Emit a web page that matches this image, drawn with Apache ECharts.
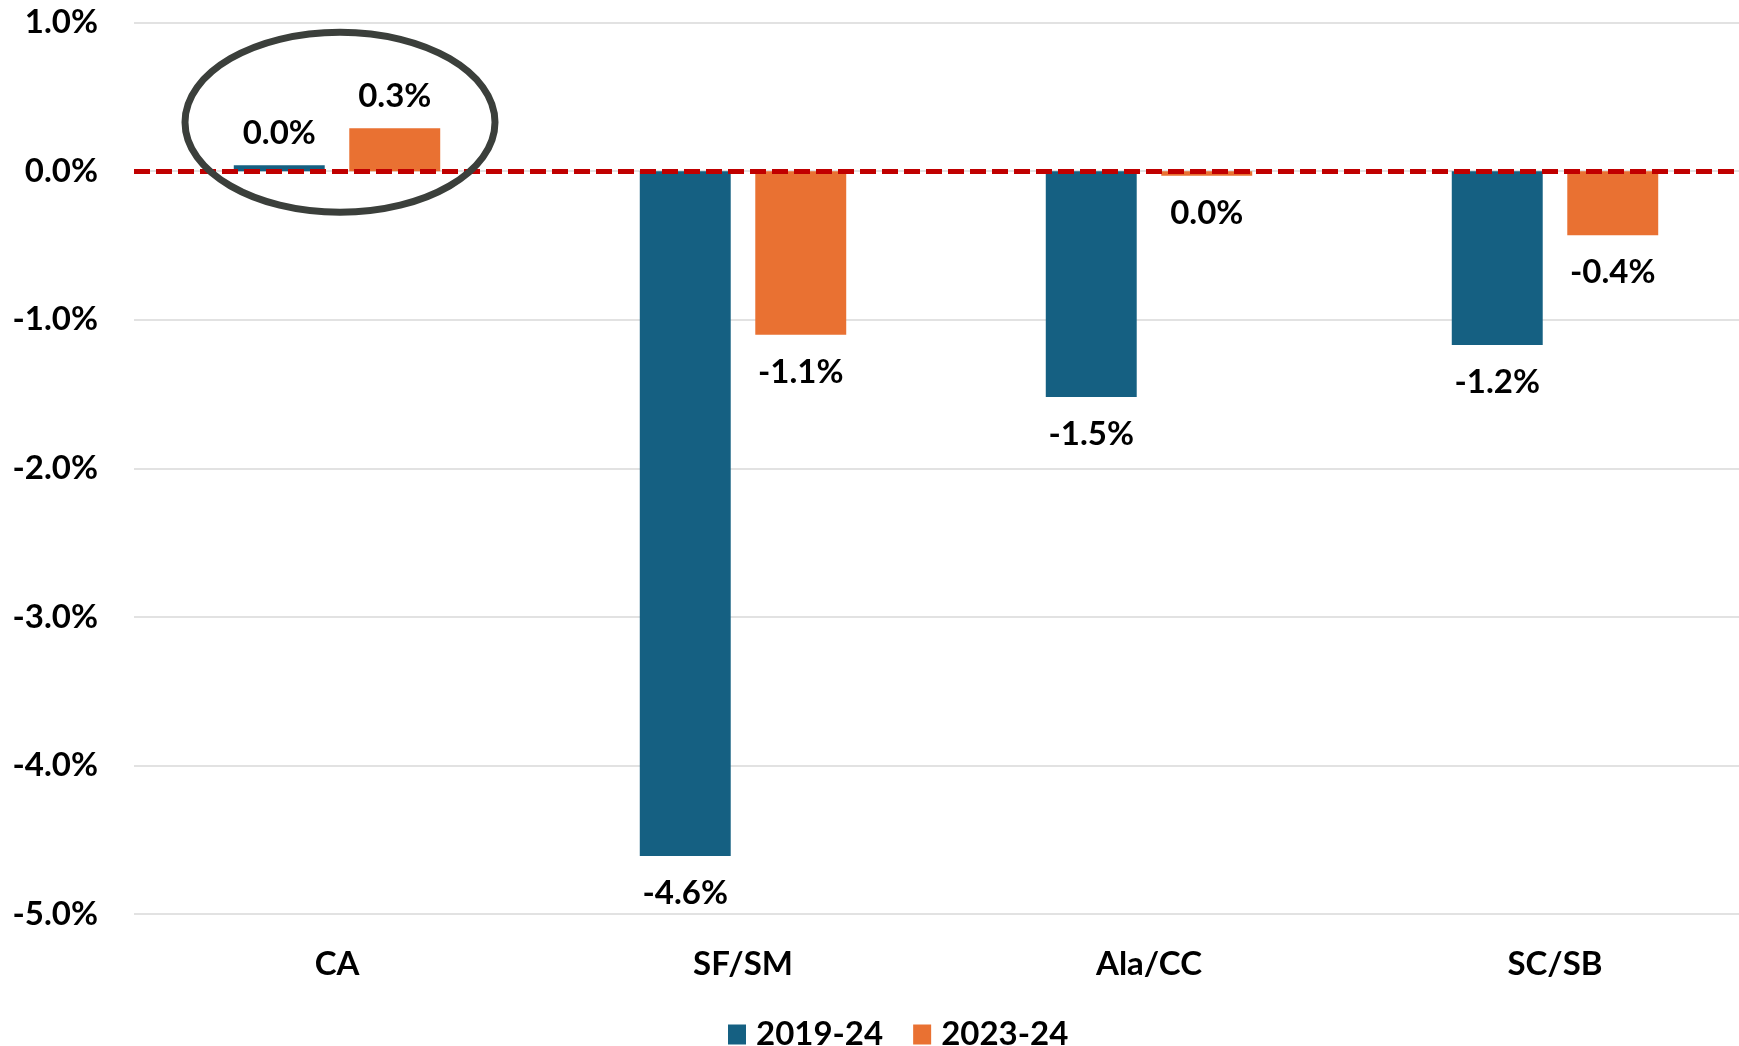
<!DOCTYPE html>
<html lang="en">
<head>
    <meta charset="UTF-8">
    <script src="https://cdn.jsdelivr.net/npm/echarts@6/dist/echarts.min.js"></script>
    <style>
        html, body { margin: 0; padding: 0; background: #fff; }
        #chart { width: 1739px; height: 1046px; }
    </style>
</head>
<body>
<div id="chart"></div>
<script>
    // data
    var categories = ['CA', 'SF/SM', 'Ala/CC', 'SC/SB'];
    var seriesNames = ['2019-24', '2023-24'];
    var change2019 = [0.04, -4.61, -1.52, -1.17];
    var change2023 = [0.29, -1.10, -0.03, -0.43];
    var yTicks = { min: -5, max: 1, step: 1 };

    var FONT = 'Lato';
    var FS = 33;
    var blue = '#156082';
    var orange = '#E97132';

    function pct(v) {
        var s = Math.abs(v) < 0.05 ? '0.0' : v.toFixed(1);
        return s + '%';
    }

    // label above positive bars, below negative ones
    function withLabels(arr) {
        return arr.map(function (v) {
            return {
                value: v,
                label: v >= 0 ? { position: 'top', distance: 15 } : { position: 'bottom', distance: 21 }
            };
        });
    }

    var labelStyle = {
        show: true,
        color: '#000',
        fontFamily: FONT,
        fontWeight: 'bold',
        fontSize: FS,
        formatter: function (p) { return pct(p.value); }
    };

    var chart = echarts.init(document.getElementById('chart'));
    var option = {
        animation: false,
        textStyle: { fontFamily: FONT },
        // plot runs a little past the right edge of the picture
        grid: { left: 134, width: 1624, top: 22.7, bottom: 132, containLabel: false, outerBoundsMode: 'none' },
        legend: {
            left: 723,
            top: 1013,
            icon: 'rect',
            itemWidth: 18,
            itemHeight: 20,
            itemGap: 30,
            itemStyle: { borderWidth: 0 },
            textStyle: { fontFamily: FONT, fontWeight: 'bold', fontSize: FS, color: '#000', padding: [0, 0, 0, 5] },
            data: seriesNames
        },
        xAxis: {
            type: 'category',
            data: categories,
            axisLine: { show: false, onZero: false },
            axisTick: { show: false },
            axisLabel: { margin: 34, color: '#000', fontFamily: FONT, fontWeight: 'bold', fontSize: FS }
        },
        yAxis: {
            type: 'value',
            min: yTicks.min,
            max: yTicks.max,
            interval: yTicks.step,
            axisLine: { show: false },
            axisTick: { show: false },
            splitLine: { lineStyle: { color: '#d9d9d9', width: 1.5 } },
            axisLabel: {
                margin: 36,
                color: '#000',
                fontFamily: FONT,
                fontWeight: 'bold',
                fontSize: FS,
                formatter: function (v) { return v.toFixed(1) + '%'; }
            }
        },
        series: [
            {
                name: seriesNames[0],
                type: 'bar',
                barWidth: '22.4%',
                barGap: '27%',
                itemStyle: { color: blue },
                label: labelStyle,
                data: withLabels(change2019),
                markLine: {
                    silent: true,
                    symbol: 'none',
                    label: { show: false },
                    lineStyle: { color: '#C00000', width: 5, type: [16, 6] },
                    data: [{ yAxis: 0 }],
                    z: 5
                }
            },
            {
                name: seriesNames[1],
                type: 'bar',
                barWidth: '22.4%',
                itemStyle: { color: orange },
                label: labelStyle,
                data: withLabels(change2023)
            }
        ]
    };
    chart.setOption(option);

    // grey ellipse highlighting the CA pair
    var c = chart.convertToPixel({ gridIndex: 0 }, [categories[0], 0.33]);
    chart.setOption({
        graphic: [{
            type: 'ellipse',
            z: 100,
            shape: { cx: c[0] + 3, cy: c[1], rx: 155, ry: 90 },
            style: { fill: null, stroke: '#3B3F3B', lineWidth: 7 }
        }]
    });
</script>
</body>
</html>
